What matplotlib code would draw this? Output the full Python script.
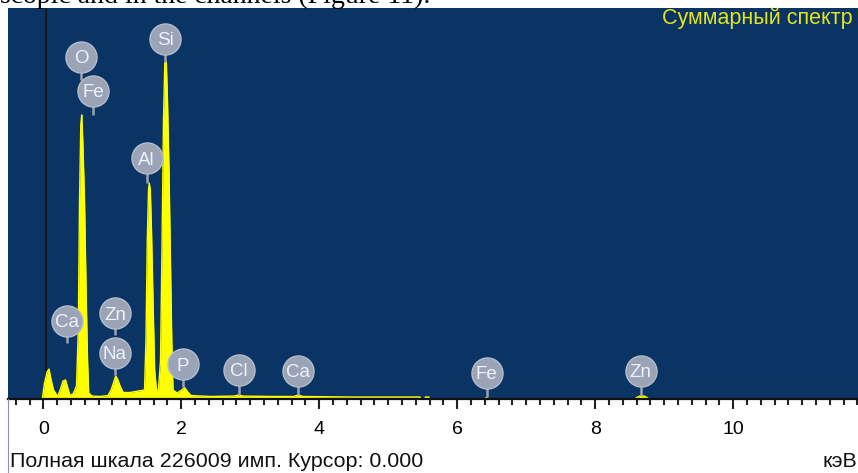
import matplotlib
matplotlib.use("Agg")
import matplotlib.pyplot as plt
from matplotlib.ticker import MultipleLocator

plt.rcParams["font.family"] = ["Liberation Sans", "DejaVu Sans"]

# spectrum outline: energy (keV) and counts
energy = [
    -0.015, 0.017, 0.054, 0.083, 0.11, 0.148, 0.209, 0.249, 0.285, 0.322,
    0.351, 0.387, 0.435, 0.481, 0.507, 0.525, 0.543, 0.557, 0.572, 0.597,
    0.623, 0.641, 0.658, 0.706, 0.822, 0.938, 0.988, 1.025, 1.049, 1.075,
    1.119, 1.159, 1.257, 1.372, 1.467, 1.488, 1.507, 1.525, 1.536, 1.551,
    1.568, 1.59, 1.614, 1.641, 1.67, 1.699, 1.72, 1.742, 1.761, 1.783,
    1.80, 1.822, 1.843, 1.862, 1.88, 1.938, 1.996, 2.049, 2.09, 2.141,
    2.416, 2.764, 2.83, 2.894, 3.286, 3.633, 3.691, 3.764, 4.445, 5.17,
    5.459, 5.474, 5.53, 5.539, 5.59, 5.597, 6.40, 6.42, 6.445, 8.575,
    8.60, 8.65, 8.71, 8.75, 8.78,
]
counts = [
    0, 9250, 15600, 17300, 11600, 5200, 1450, 5800, 10400, 11000,
    6900, 2000, 3200, 7500, 39900, 115000, 158400, 164200, 149700, 115000,
    57200, 22500, 3500, 1700, 1450, 2000, 5800, 10400, 13300, 11600,
    6900, 3750, 3750, 4600, 5200, 34100, 91900, 120800, 124800, 120800,
    97700, 57200, 16800, 4600, 5800, 22500, 86100, 161300, 194200, 194800,
    172800, 132400, 80300, 34100, 5200, 3500, 4900, 6600, 4300, 2000,
    1450, 1700, 2300, 1700, 1450, 1450, 2300, 1450, 1150, 1150,
    1150, 0, 0, 1150, 1150, 0, 0, 870, 0, 0,
    870, 1700, 1700, 870, 0,
]

full_scale = 226009
cursor = 0.0

# element markers: label, energy of marker, peak counts the stem points at
elements = ["O", "Fe", "Si", "Al", "Ca", "Zn", "Na", "P", "Cl", "Ca", "Fe", "Zn"]
element_kev = [0.546, 0.725, 1.764, 1.499, 0.339, 1.039, 1.039, 2.02, 2.836, 3.696, 6.426, 8.662]
element_peak = [184400, 164200, 194800, 124800, 32400, 37000, 13900, 6900, 2300, 2300, 1150, 2300]
balloon_y = [197700, 178200, 208100, 139100, 45300, 49500, 26800, 20200, 16800, 16400, 15200, 16400]

bg = "#0a3464"
balloon = "#9aa4b6"

fig = plt.figure(figsize=(8.58, 4.73), dpi=100)
ax = fig.add_axes([8 / 858, 74 / 473, 850 / 858, 391 / 473])
ax.set_facecolor(bg)
ax.set_xlim(-0.512, 11.81)
ax.set_ylim(0, full_scale)

ax.axvline(0.04, color="#1a1a1a", lw=1.5, zorder=1)
ax.fill_between(energy, counts, 0, color="#ffff00", lw=0, zorder=2)
ax.plot(energy, counts, color="#ffff00", lw=1.0, zorder=2)

for lab, ex, peak, by in zip(elements, element_kev, element_peak, balloon_y):
    ax.plot([ex, ex], [peak, by], color=balloon, lw=1.8, zorder=3, solid_capstyle="butt")
    ax.scatter([ex], [by], s=500, color=balloon, edgecolors="#b4bccb", linewidths=1.0, zorder=4)
    ax.text(ex, by, lab, ha="center", va="center_baseline", color="#eef2fa",
            fontsize=13.5, zorder=5)

ax.text(0.9935, 0.958, "Суммарный спектр", transform=ax.transAxes, ha="right",
        va="baseline", color="#e4e41a", fontsize=15.5)

for side in ("top", "left", "right"):
    ax.spines[side].set_visible(False)
ax.spines["bottom"].set_linewidth(1.6)
ax.spines["bottom"].set_color("#111111")

ax.xaxis.set_major_locator(MultipleLocator(2))
ax.xaxis.set_minor_locator(MultipleLocator(0.2))
ax.tick_params(axis="x", which="major", length=7.5, width=1.5, color="#222222",
               labelsize=14, pad=8)
ax.tick_params(axis="x", which="minor", length=4, width=1.5, color="#222222")
ax.set_yticks([])

# thin window frame at the left edge
fig.add_artist(plt.Line2D([7.5 / 858, 7.5 / 858], [0, 74 / 473], transform=fig.transFigure,
                          color="#8a94a4", lw=0.8))

fig.text(10 / 858, 1 - 467 / 473, "Полная шкала %d имп. Курсор: %.3f" % (full_scale, cursor),
         ha="left", va="baseline", fontsize=15.4, color="#111111")
fig.text(857 / 858, 1 - 467 / 473, "кэВ", ha="right", va="baseline",
         fontsize=15.4, color="#111111")

# tail of the paragraph sitting above the figure
fig.text(430 / 858, 1 - 3 / 473, "roscopic and in the channels (Figure 11).", ha="right",
         va="baseline", fontsize=20, family="Liberation Serif", color="black")

fig.savefig("out.png", dpi=100, facecolor="white")
